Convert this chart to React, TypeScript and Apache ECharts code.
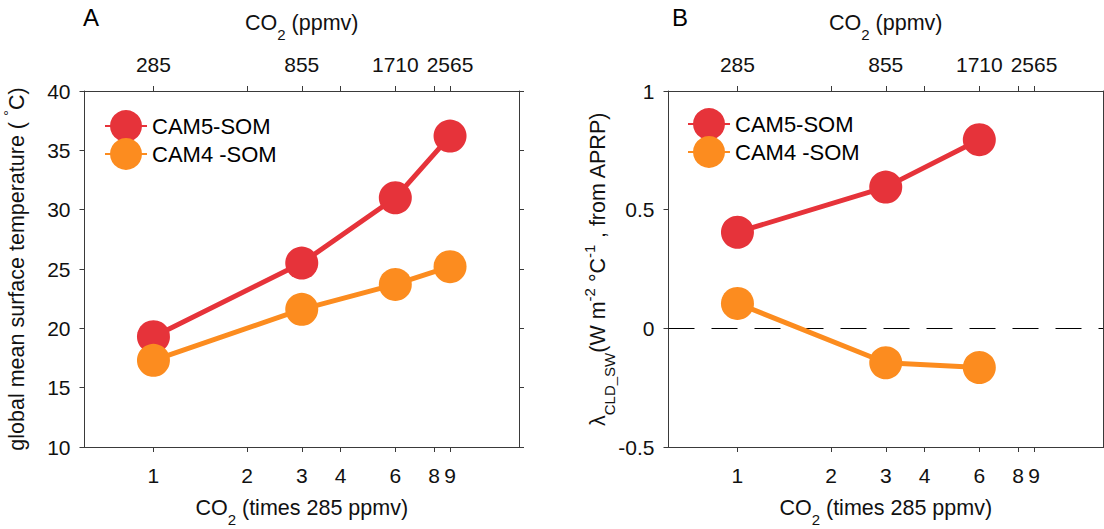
import React, { useEffect, useRef } from "react";
import * as echarts from "echarts";

// ---- data ----
const co2Times = [1, 3, 6, 9];
const tempCAM5 = [19.3, 25.5, 31.0, 36.2];
const tempCAM4 = [17.3, 21.6, 23.7, 25.2];
const co2TimesB = [1, 3, 6];
const lambdaCAM5 = [0.405, 0.595, 0.795];
const lambdaCAM4 = [0.105, -0.145, -0.165];
const xTickValues = [1, 2, 3, 4, 6, 8, 9];
const topLabelValues = [1, 3, 6, 9];
const baseCO2 = 285;
const seriesNames = ["CAM5-SOM", "CAM4 -SOM"];

const RED = "#E6333A";
const ORANGE = "#FC8C1F";
const FONT = "'Liberation Sans', Arial, Helvetica, sans-serif";
const AXC = "#3a3a3a";
const TICK_FS = 21;

const rich = {
  n: { fontSize: 21.5, fontFamily: FONT, color: "#111", verticalAlign: "bottom", padding: [0, 0, 8, 0] },
  sub: { fontSize: 15, fontFamily: FONT, color: "#111", verticalAlign: "bottom" },
  sup: { fontSize: 15, fontFamily: FONT, color: "#111", verticalAlign: "bottom", padding: [0, 0, 20, 0] },
};

export default function App() {
  const ref = useRef<HTMLDivElement>(null);
  useEffect(() => {
    const chart = echarts.init(ref.current!, null, { renderer: "svg" });

    const xBase = (gridIndex: number, position: "top" | "bottom") => ({
      type: "log",
      logBase: 10,
      gridIndex,
      position,
      min: 0.6,
      max: 15,
      splitLine: { show: false },
      minorTick: { show: false },
      axisLine: { show: true, onZero: false, lineStyle: { color: AXC, width: 1 } },
      axisTick: { show: true, length: 5, inside: false, customValues: xTickValues, lineStyle: { color: AXC } },
      nameLocation: "middle",
      nameMoveOverlap: false,
      nameTextStyle: { rich },
    });

    const bottomAxis = (gi: number) => ({
      ...xBase(gi, "bottom"),
      name: "{n|CO}{sub|2}{n| (times 285 ppmv)}",
      nameGap: 50,
      axisLabel: {
        customValues: xTickValues,
        margin: 18,
        fontSize: TICK_FS,
        fontFamily: FONT,
        color: "#111",
        formatter: (v: number) => String(Math.round(v)),
      },
    });
    const topAxis = (gi: number) => ({
      ...xBase(gi, "top"),
      name: "{n|CO}{sub|2}{n| (ppmv)}",
      nameGap: 49,
      axisLabel: {
        customValues: topLabelValues,
        margin: 16,
        fontSize: TICK_FS,
        fontFamily: FONT,
        color: "#111",
        formatter: (v: number) => String(Math.round(v * baseCO2)),
      },
    });

    const yBase = (gi: number, min: number, max: number, interval: number) => ({
      type: "value",
      gridIndex: gi,
      min,
      max,
      interval,
      splitLine: { show: false },
      axisLine: { show: true, onZero: false, lineStyle: { color: AXC, width: 1 } },
      axisTick: { show: true, length: 5, inside: false, lineStyle: { color: AXC } },
      nameLocation: "middle",
      nameRotate: 90,
      nameMoveOverlap: false,
      nameTextStyle: { rich },
    });

    const legendCommon = {
      orient: "vertical",
      itemWidth: 42,
      itemHeight: 40,
      itemGap: -4,
      data: seriesNames,
      textStyle: { fontSize: 22, fontFamily: FONT, color: "#000" },
    };

    const option: any = {
      animation: false,
      textStyle: { fontFamily: FONT },
      grid: [
        { left: 84.5, top: 91, width: 434.5, height: 356, outerBoundsMode: "none", containLabel: false },
        { left: 668.5, top: 91, width: 434.5, height: 356, outerBoundsMode: "none", containLabel: false },
      ],
      xAxis: [bottomAxis(0), topAxis(0), bottomAxis(1), topAxis(1)],
      yAxis: [
        {
          ...yBase(0, 10, 40, 5),
          position: "left",
          name: "{n|global mean surface temperature ( }{sup|°}{n|C)}",
          nameGap: 49,
          axisLabel: { fontSize: TICK_FS, fontFamily: FONT, color: "#111", margin: 14 },
        },
        { ...yBase(0, 10, 40, 5), position: "right", axisLabel: { show: false } },
        {
          ...yBase(1, -0.5, 1, 0.5),
          position: "left",
          name: "{n|λ}{sub|CLD_SW}{n|(W m}{sup|-2}{n| °C}{sup|-1}{n| , from APRP)}",
          nameGap: 52,
          axisLabel: { fontSize: TICK_FS, fontFamily: FONT, color: "#111", margin: 14 },
        },
        { ...yBase(1, -0.5, 1, 0.5), position: "right", axisLabel: { show: false } },
      ],
      legend: [
        { ...legendCommon, left: 99, top: 105 },
        { ...legendCommon, left: 682, top: 103 },
      ],
      series: [
        {
          name: seriesNames[0],
          type: "line",
          xAxisIndex: 0,
          yAxisIndex: 0,
          data: co2Times.map((x, i) => [x, tempCAM5[i]]),
          symbol: "circle",
          symbolSize: 33,
          lineStyle: { color: RED, width: 5 },
          itemStyle: { color: RED },
          z: 3,
        },
        {
          name: seriesNames[1],
          type: "line",
          xAxisIndex: 0,
          yAxisIndex: 0,
          data: co2Times.map((x, i) => [x, tempCAM4[i]]),
          symbol: "circle",
          symbolSize: 33,
          lineStyle: { color: ORANGE, width: 5 },
          itemStyle: { color: ORANGE },
          z: 4,
        },
        {
          name: seriesNames[0],
          type: "line",
          xAxisIndex: 2,
          yAxisIndex: 2,
          data: co2TimesB.map((x, i) => [x, lambdaCAM5[i]]),
          symbol: "circle",
          symbolSize: 33,
          lineStyle: { color: RED, width: 5 },
          itemStyle: { color: RED },
          z: 3,
          markLine: {
            silent: true,
            symbol: ["none", "none"],
            label: { show: false },
            lineStyle: { color: "#000", type: [26, 17], width: 1.2 },
            data: [{ yAxis: 0 }],
            z: 1,
          },
        },
        {
          name: seriesNames[1],
          type: "line",
          xAxisIndex: 2,
          yAxisIndex: 2,
          data: co2TimesB.map((x, i) => [x, lambdaCAM4[i]]),
          symbol: "circle",
          symbolSize: 33,
          lineStyle: { color: ORANGE, width: 5 },
          itemStyle: { color: ORANGE },
          z: 4,
        },
      ],
      graphic: [
        { type: "text", left: 83, top: 5, style: { text: "A", fontSize: 24, fontFamily: FONT, fill: "#000" } },
        { type: "text", left: 672, top: 5, style: { text: "B", fontSize: 24, fontFamily: FONT, fill: "#000" } },
      ],
    };

    chart.setOption(option);
    return () => chart.dispose();
  }, []);

  return (
    <div
      ref={ref}
      style={{ position: "absolute", left: 0, top: 0, width: 1104, height: 529, background: "#fff" }}
    />
  );
}
